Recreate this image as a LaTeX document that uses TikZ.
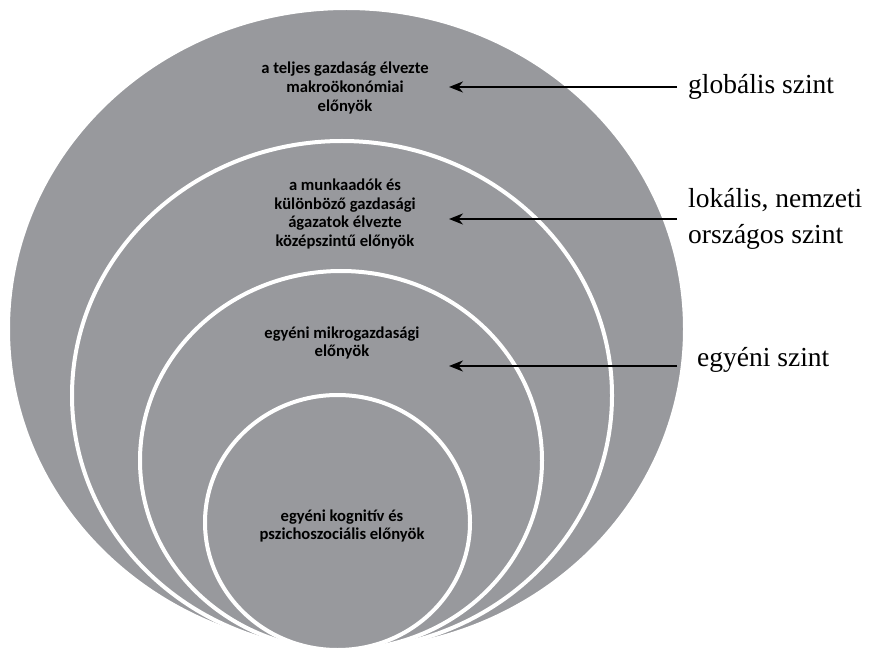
\documentclass[tikz,border=0pt]{standalone}
\usepackage{fontspec}
\setmainfont{Liberation Serif}
\newfontfamily\kalibri{Carlito}
\usepackage{tikz}
\usetikzlibrary{arrows.meta,shapes.geometric,positioning}
\definecolor{kszurke}{HTML}{98999D}
\tikzset{
  >={Stealth[length=14pt,width=11pt]},
  kszint/.style={ellipse, fill=kszurke, draw=white, line width=4pt, inner sep=0pt},
  kszoveg/.style={align=center, text=black, inner sep=0pt,
                  font=\kalibri\bfseries\fontsize{16.6}{18.6}\selectfont},
  kcimke/.style={align=left, inner sep=0pt, font=\fontsize{27.5}{36}\selectfont},
  knyil/.style={->, black, line width=2pt},
}

\begin{document}
\begin{tikzpicture}[x=1pt,y=-1pt]
  \useasboundingbox (0,0) rectangle (875,652);

  % egymásba ágyazott szintek
  \node[kszint, minimum width=677pt, minimum height=642pt] (globalis) at (346.5,329) {};
  \node[kszint, minimum width=540pt, minimum height=509pt] (lokalis) at (342,395.5) {};
  \node[kszint, minimum width=402pt, minimum height=379pt] (egyeni) at (341,460.5) {};
  \node[kszint, minimum width=265pt, minimum height=255pt] (kognitiv) at (337.5,522.5) {};

  % szövegek a szinteken
  \node[kszoveg] (tglobalis) at (345,88) {a teljes gazdaság élvezte\\makroökonómiai\\előnyök};
  \node[kszoveg] (tlokalis) at (345,214) {a munkaadók és\\különböző gazdasági\\ágazatok élvezte\\középszintű előnyök};
  \node[kszoveg] (tegyeni) at (342,343) {egyéni mikrogazdasági\\előnyök};
  \node[kszoveg] (tkognitiv) at (342,526) {egyéni kognitív és\\pszichoszociális előnyök};

  % címkék jobbra
  \node[kcimke, anchor=west] (globcimke) at (688,87) {globális szint};
  \node[kcimke, anchor=west] (lokcimke) at (688,219) {lokális, nemzeti\\országos szint};
  \node[kcimke, anchor=base west] (egycimke) at (697,366) {egyéni szint};

  % nyilak
  \coordinate (hegyA) at (449,87);
  \coordinate (hegyB) at (449,219);
  \coordinate (hegyC) at (449,366);
  \draw[knyil] ([xshift=-11pt]globcimke.west) -- (globcimke.west -| hegyA);
  \draw[knyil] ([xshift=-11pt]lokcimke.west) -- (lokcimke.west -| hegyB);
  \draw[knyil] ([xshift=-20pt]egycimke.base west) -- (egycimke.base west -| hegyC);

\end{tikzpicture}
\end{document}
